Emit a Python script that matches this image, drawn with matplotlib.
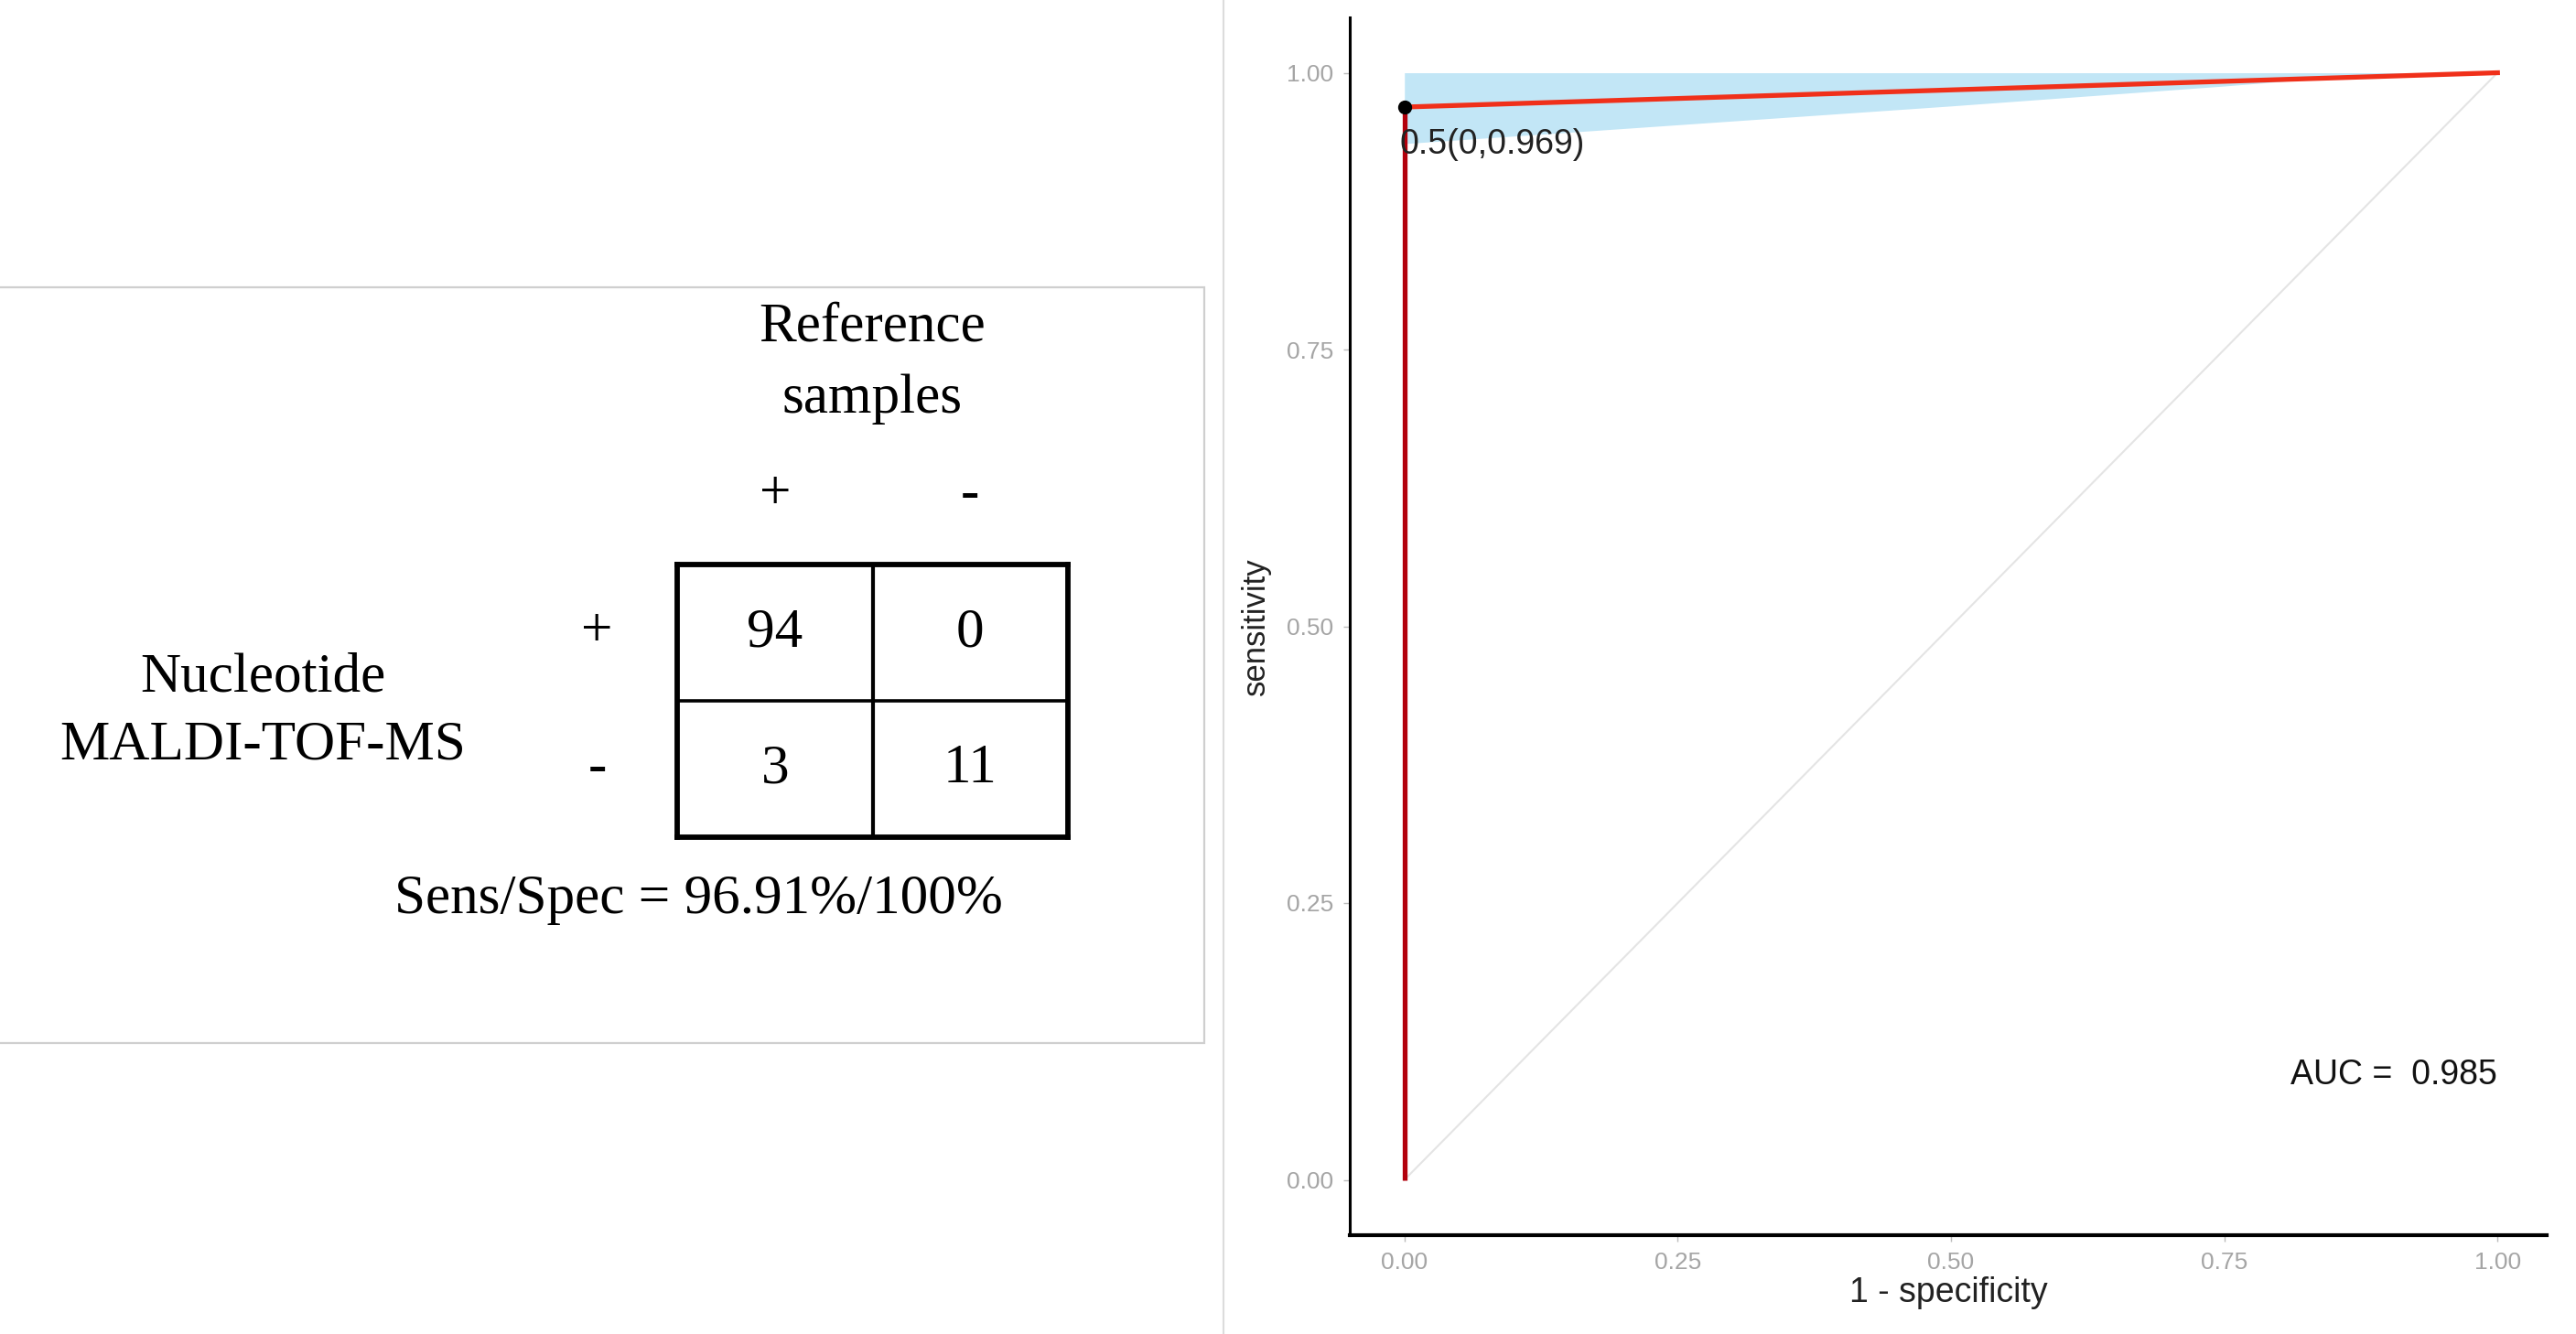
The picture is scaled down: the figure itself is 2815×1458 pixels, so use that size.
import numpy as np
import matplotlib.pyplot as plt
from matplotlib.patches import Rectangle
from matplotlib.lines import Line2D

# confusion table: rows = Nucleotide MALDI-TOF-MS (+,-), cols = reference samples (+,-)
counts = [[94, 0], [3, 11]]
signs = ["+", "-"]
sens_spec = "Sens/Spec = 96.91%/100%"

# ROC curve
fpr = [0.0, 0.0, 1.0]
tpr = [0.0, 0.969, 1.0]
cut_fpr = 0.0
cut_tpr = 0.969
cut_label = "0.5(0,0.969)"
auc_text = "AUC =  0.985"

# confidence band of the ROC
band_x = [0.0, 0.25, 0.5, 0.75, 0.85, 1.0]
band_lo = [0.936, 0.953, 0.970, 0.988, 0.996, 1.0]
band_hi = [1.0, 1.0, 1.0, 1.0, 1.0, 1.0]

ticks = [0.0, 0.25, 0.5, 0.75, 1.0]
tick_labels = ["0.00", "0.25", "0.50", "0.75", "1.00"]

W, H = 2815, 1458
fig = plt.figure(figsize=(W / 100, H / 100), dpi=100)
serif = ["Liberation Serif", "DejaVu Serif"]
sans = ["Liberation Sans", "DejaVu Sans"]
fs = 44

# ---- left panel: 2x2 table ----
fig.patches.append(Rectangle((-0.01, 1 - 1140 / H), 1316 / W + 0.01, 826 / H,
                             transform=fig.transFigure, fill=False,
                             edgecolor="#cfcfcf", lw=1.6))
fig.add_artist(Line2D([1337 / W, 1337 / W], [0, 1], transform=fig.transFigure,
                      color="#dcdcdc", lw=1.5))

tab = fig.add_axes([740 / W, 1 - 915 / H, 427 / W, 298 / H])
tab.set_xlim(0, 2)
tab.set_ylim(2, 0)
tab.set_xticks([])
tab.set_yticks([])
for s in tab.spines.values():
    s.set_linewidth(4.2)
    s.set_color("black")
tab.axvline(1, color="black", lw=3)
tab.axhline(1, color="black", lw=2.6)
for i in range(2):
    for j in range(2):
        tab.text(j + 0.5, i + 0.5, str(counts[i][j]), ha="center", va="center",
                 fontsize=fs, family=serif)
    tab.text(i + 0.5, -0.51, signs[i], ha="center", va="center",
             fontsize=fs, family=serif, clip_on=False)
    tab.text(-0.41, i + 0.5, signs[i], ha="center", va="center",
             fontsize=fs, family=serif, clip_on=False)
tab.text(1.0, -1.74, "Reference", ha="center", va="center", fontsize=fs,
         family=serif, clip_on=False)
tab.text(1.0, -1.21, "samples", ha="center", va="center", fontsize=fs,
         family=serif, clip_on=False)
tab.text(-2.12, 0.83, "Nucleotide", ha="center", va="center", fontsize=fs,
         family=serif, clip_on=False)
tab.text(-2.12, 1.33, "MALDI-TOF-MS", ha="center", va="center", fontsize=fs,
         family=serif, clip_on=False)
tab.text(0.11, 2.46, sens_spec, ha="center", va="center", fontsize=fs,
         family=serif, clip_on=False)

# ---- right panel: ROC ----
ax = fig.add_axes([1475 / W, 1 - 1350 / H, 1308 / W, 1331 / H])
ax.set_xlim(-0.05, 1.045)
ax.set_ylim(-0.05, 1.05)
ax.fill_between(band_x, band_lo, band_hi, color="#c2e6f6", lw=0)
ax.plot([0, 1], [0, 1], color="#e4e4e4", lw=1.5)
ax.plot(fpr[:2], tpr[:2], color="#b3000c", lw=3.8, solid_capstyle="butt")
ax.plot(fpr[1:], tpr[1:], color="#f0301a", lw=3.8)
ax.plot([cut_fpr], [cut_tpr], "o", color="black", ms=10)
ax.text(cut_fpr - 0.004, cut_tpr - 0.034, cut_label, ha="left", va="center",
        fontsize=27, color="#222222", family=sans)
ax.text(0.905, 0.095, auc_text, ha="center", va="center", fontsize=27,
        color="#111111", family=sans)

ax.set_xticks(ticks)
ax.set_xticklabels(tick_labels)
ax.set_yticks(ticks)
ax.set_yticklabels(tick_labels)
ax.tick_params(length=5, width=1, color="#bbbbbb", labelcolor="#a5a5a5",
               labelsize=19, pad=8)
for lab in ax.get_xticklabels() + ax.get_yticklabels():
    lab.set_family(sans)
ax.set_xlabel("1 - specificity", fontsize=27, color="#222222",
              family=sans, labelpad=2)
ax.set_ylabel("sensitivity", fontsize=25, color="#222222",
              family=sans, labelpad=12)
ax.spines["top"].set_visible(False)
ax.spines["right"].set_visible(False)
ax.spines["left"].set_linewidth(2.2)
ax.spines["bottom"].set_linewidth(3)

fig.savefig("out.png", dpi=100)
